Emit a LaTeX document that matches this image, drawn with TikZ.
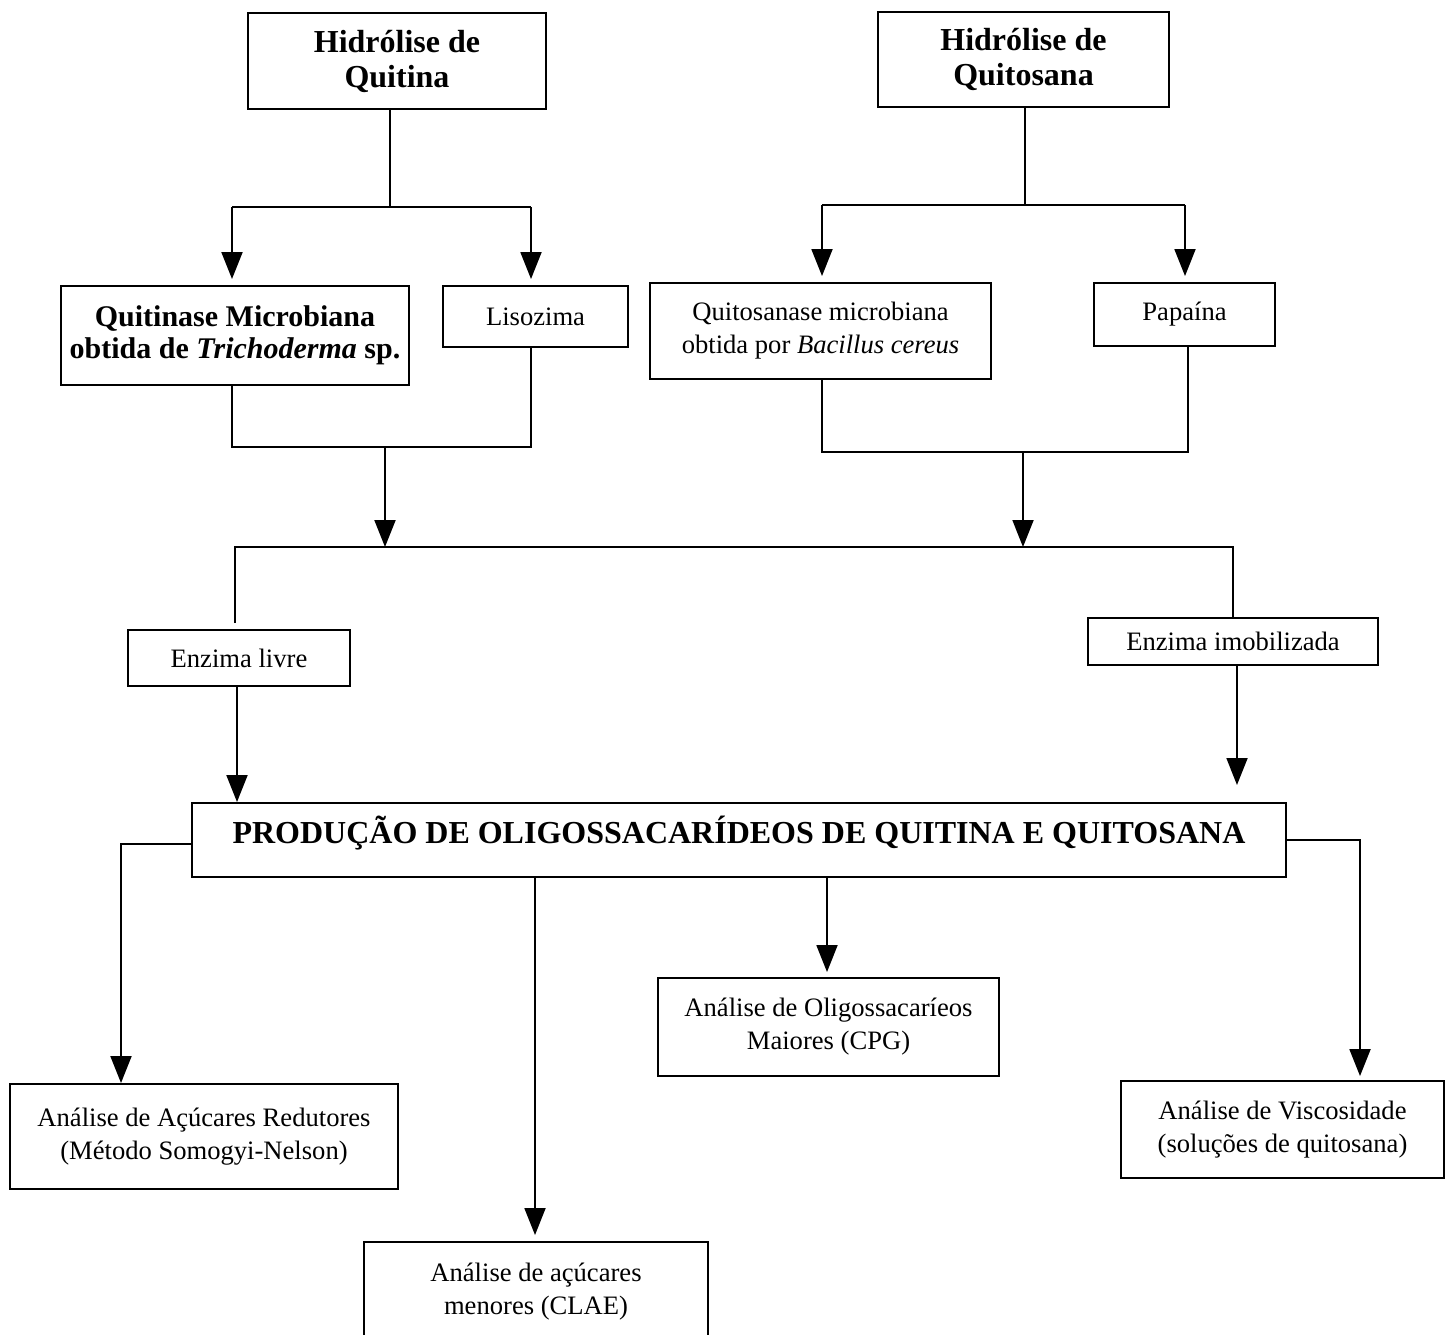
\documentclass[tikz,border=0pt]{standalone}
\usepackage{fontspec}
\setmainfont{Liberation Serif}
\usetikzlibrary{arrows.meta}
\begin{document}
\begin{tikzpicture}[x=1pt,y=-1pt,
  box/.style={draw, line width=1.9pt, align=center, inner sep=0pt, font=\fontsize{26.6}{33}\selectfont},
  hbox/.style={box, font=\fontsize{32}{35}\selectfont\bfseries},
  ln/.style={line width=1.9pt},
  arr/.style={line width=1.9pt, -{Triangle[length=27pt,width=21pt]}}
]
\useasboundingbox (0,0) rectangle (1445,1335);

% boxes
\node[hbox, minimum width=298pt, minimum height=96pt] (qa) at (397,61) {Hidrólise de\\Quitina};
\node[hbox, minimum width=291pt, minimum height=95pt] (qb) at (1023.5,59.5) {Hidrólise de\\Quitosana};
\node[box, font=\fontsize{30}{32}\selectfont\bfseries, minimum width=348pt, minimum height=99pt] (qm) at (235,335.5) {Quitinase Microbiana\\obtida de \textit{Trichoderma} sp.};
\node[box, minimum width=185pt, minimum height=61pt] (lz) at (535.5,316.5) {Lisozima};
\node[box, minimum width=341pt, minimum height=96pt] (qs) at (820.5,331) {Quitosanase microbiana\\obtida por \textit{Bacillus cereus}};
\node[box, minimum width=181pt, minimum height=63pt] (pp) at (1184.5,314.5) {Papaína};
\node[box, minimum width=222pt, minimum height=56pt] (el) at (239,658) {Enzima livre};
\node[box, minimum width=290pt, minimum height=47pt] (ei) at (1233,641.5) {Enzima imobilizada};
\node[box, font=\fontsize{32}{36}\selectfont\bfseries, text depth=20pt, minimum width=1094pt, minimum height=74pt] (pr) at (739,840) {PRODUÇÃO DE OLIGOSSACARÍDEOS DE QUITINA E QUITOSANA};
\node[box, minimum width=341pt, minimum height=98pt] (cpg) at (828.5,1027) {Análise de Oligossacaríeos\\Maiores (CPG)};
\node[box, minimum width=388pt, minimum height=105pt] (ar) at (204,1136.5) {Análise de Açúcares Redutores\\(Método Somogyi-Nelson)};
\node[box, minimum width=323pt, minimum height=97pt] (vi) at (1282.5,1129.5) {Análise de Viscosidade\\(soluções de quitosana)};
\node[box, minimum width=344pt, minimum height=100pt] (cl) at (536,1292) {Análise de açúcares\\menores (CLAE)};

% junction coordinates
\coordinate (ja) at (390,207);
\coordinate (jal) at (232,207);
\coordinate (jar) at (531,207);
\coordinate (jb) at (1025,205);
\coordinate (jbl) at (822,205);
\coordinate (jbr) at (1185,205);
\coordinate (m1) at (232,447);
\coordinate (m2) at (531,447);
\coordinate (m0) at (385,447);
\coordinate (m3) at (822,452);
\coordinate (m4) at (1188,452);
\coordinate (m5) at (1023,452);
\coordinate (bl) at (235,547);
\coordinate (br) at (1233,547);
\coordinate (bq) at (385,547);
\coordinate (bs) at (1023,547);
\coordinate (bel) at (235,623);
\coordinate (xe) at (237,0);
\coordinate (xi) at (1237,0);
\coordinate (tei) at (1237,785);
\coordinate (lft) at (121,844);
\coordinate (rgt) at (1360,840);
\coordinate (xc) at (535,0);
\coordinate (xg) at (827,0);

% top left branch
\draw[ln] (qa.south -| ja) -- (ja);
\draw[ln] (jal) -- (jar);
\draw[arr, shorten >=6pt] (jal) -- (jal |- qm.north);
\draw[arr, shorten >=6pt] (jar) -- (jar |- lz.north);

% top right branch
\draw[ln] (qb.south -| jb) -- (jb);
\draw[ln] (jbl) -- (jbr);
\draw[arr, shorten >=6pt] (jbl) -- (jbl |- qs.north);
\draw[arr, shorten >=6pt] (jbr) -- (jbr |- pp.north);

% merges
\draw[ln] (qm.south -| m1) -- (m1) -- (m2) -- (lz.south -| m2);
\draw[arr] (m0) -- (bq);
\draw[ln] (qs.south -| m3) -- (m3) -- (m4) -- (pp.south -| m4);
\draw[arr] (m5) -- (bs);

% distribution line
\draw[ln] (bel) -- (bl) -- (br) -- (ei.north -| br);
\draw[arr] (el.south -| xe) -- (pr.north -| xe);
\draw[arr] (ei.south -| xi) -- (tei);

% outputs
\draw[arr] (pr.west |- lft) -- (lft) -- (lft |- ar.north);
\draw[arr, shorten >=6pt] (pr.south -| xc) -- (cl.north -| xc);
\draw[arr, shorten >=5pt] (pr.south -| xg) -- (cpg.north -| xg);
\draw[arr, shorten >=4pt] (pr.east |- rgt) -- (rgt) -- (rgt |- vi.north);
\end{tikzpicture}
\end{document}
